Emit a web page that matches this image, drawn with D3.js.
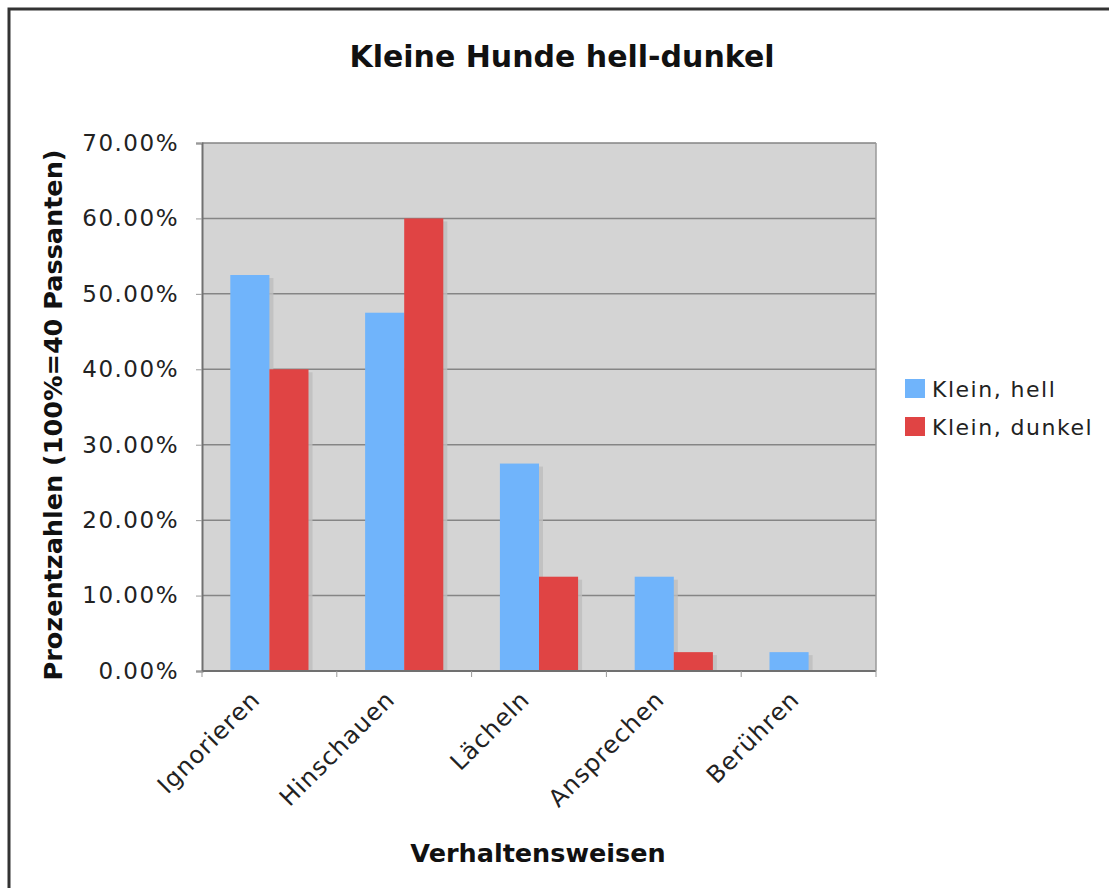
<!DOCTYPE html>
<html>
<head>
<meta charset="utf-8">
<script src="https://cdn.jsdelivr.net/npm/d3@7"></script>
<style>
  body { margin: 0; background: #fff; }
  svg { display: block; font-family: 'DejaVu Sans', Verdana, sans-serif; }
</style>
</head>
<body>
<svg id="chart" width="1109" height="888"></svg>
<script>
// data
const categories = ['Ignorieren', 'Hinschauen', 'Lächeln', 'Ansprechen', 'Berühren']
const seriesNames = ['Klein, hell', 'Klein, dunkel']
const hellValues = [0.525, 0.475, 0.275, 0.125, 0.025]
const dunkelValues = [0.40, 0.60, 0.125, 0.025, 0]
const yTicks = [0, 0.1, 0.2, 0.3, 0.4, 0.5, 0.6, 0.7]

const colors = ['#70b4fb', '#e04444']
const series = [hellValues, dunkelValues]

const margin = { left: 202, top: 143, right: 876, bottom: 671 }

const svg = d3.select('#chart')

// outer frame (cut off on right and bottom like the screenshot)
svg.append('rect')
  .attr('x', 9).attr('y', 9)
  .attr('width', 1130).attr('height', 900)
  .attr('fill', 'none')
  .attr('stroke', '#333')
  .attr('stroke-width', 3)

const x0 = d3.scaleBand()
  .domain(categories)
  .range([margin.left, margin.right])
  .paddingInner(0.42)
  .paddingOuter(0.21)

const x1 = d3.scaleBand()
  .domain(d3.range(series.length))
  .range([0, x0.bandwidth()])

const y = d3.scaleLinear()
  .domain([0, 0.7])
  .range([margin.bottom, margin.top])

// plot background
svg.append('rect')
  .attr('x', margin.left).attr('y', margin.top)
  .attr('width', margin.right - margin.left)
  .attr('height', margin.bottom - margin.top)
  .attr('fill', '#d4d4d4')

// grid lines
svg.append('g')
  .selectAll('line')
  .data(yTicks.slice(1))
  .enter()
  .append('line')
  .attr('x1', margin.left).attr('x2', margin.right)
  .attr('y1', (d) => y(d)).attr('y2', (d) => y(d))
  .attr('stroke', '#858585')
  .attr('stroke-width', 1.5)

// bars with a soft shadow
const groups = svg.append('g')
  .selectAll('g')
  .data(categories)
  .enter()
  .append('g')
  .attr('transform', (d) => `translate(${x0(d)},0)`)

series.forEach((vals, s) => {
  groups.append('rect')
    .attr('x', x1(s) + 4)
    .attr('y', (d, i) => y(vals[i]) + 3)
    .attr('width', x1.bandwidth())
    .attr('height', (d, i) => Math.max(0, margin.bottom - y(vals[i]) - 3))
    .attr('fill', '#bdbdbd')
    .attr('opacity', (d, i) => vals[i] > 0 ? 0.8 : 0)
})
series.forEach((vals, s) => {
  groups.append('rect')
    .attr('x', x1(s))
    .attr('y', (d, i) => y(vals[i]))
    .attr('width', x1.bandwidth())
    .attr('height', (d, i) => margin.bottom - y(vals[i]))
    .attr('fill', colors[s])
})

// y axis
const yAxis = d3.axisLeft(y)
  .tickValues(yTicks)
  .tickFormat((d) => (d * 100).toFixed(2) + '%')
  .tickSize(6)
  .tickPadding(17)
const yAxisGroup = svg.append('g')
  .attr('transform', `translate(${margin.left},0)`)
  .call(yAxis)
yAxisGroup.select('.domain').attr('stroke', '#707070').attr('stroke-width', 2)
yAxisGroup.selectAll('line').attr('stroke', '#999')
yAxisGroup.selectAll('text')
  .attr('font-size', '23px')
  .attr('letter-spacing', '1.5px')
  .attr('fill', '#222')
  .attr('font-family', "'DejaVu Sans', Verdana, sans-serif")

// x axis: ticks at category boundaries
const boundaries = categories.map((c) => x0(c) - x0.step() * x0.paddingInner() / 2)
boundaries.push(margin.right)
svg.append('line')
  .attr('x1', margin.left).attr('x2', margin.right)
  .attr('y1', margin.bottom).attr('y2', margin.bottom)
  .attr('stroke', '#707070').attr('stroke-width', 2)
svg.append('g')
  .selectAll('line')
  .data(boundaries)
  .enter()
  .append('line')
  .attr('x1', (d) => d).attr('x2', (d) => d)
  .attr('y1', margin.bottom).attr('y2', margin.bottom + 6)
  .attr('stroke', '#999')
svg.append('line')
  .attr('x1', margin.right).attr('x2', margin.right)
  .attr('y1', margin.top).attr('y2', margin.bottom)
  .attr('stroke', '#9a9a9a').attr('stroke-width', 1.5)

svg.append('g')
  .selectAll('text')
  .data(categories)
  .enter()
  .append('text')
  .attr('transform', (d) => `translate(${x0(d) + x0.bandwidth() / 2 - 8},${margin.bottom + 30}) rotate(-45)`)
  .attr('text-anchor', 'end')
  .attr('font-size', '24px')
  .attr('letter-spacing', '1px')
  .attr('fill', '#222')
  .text((d) => d)

// titles
svg.append('text')
  .attr('x', 562).attr('y', 67)
  .attr('text-anchor', 'middle')
  .attr('font-size', '30px')
  .attr('font-weight', 'bold')
  .attr('fill', '#111')
  .text('Kleine Hunde hell-dunkel')

svg.append('text')
  .attr('x', 538).attr('y', 862)
  .attr('text-anchor', 'middle')
  .attr('font-size', '25.5px')
  .attr('font-weight', 'bold')
  .attr('fill', '#111')
  .text('Verhaltensweisen')

svg.append('text')
  .attr('transform', 'translate(62,415) rotate(-90)')
  .attr('text-anchor', 'middle')
  .attr('font-size', '25.5px')
  .attr('font-weight', 'bold')
  .attr('fill', '#111')
  .text('Prozentzahlen (100%=40 Passanten)')

// legend
const legend = svg.append('g')
  .selectAll('g')
  .data(seriesNames)
  .enter()
  .append('g')
  .attr('transform', (d, i) => `translate(905,${379 + i * 38})`)
legend.append('rect')
  .attr('width', 20).attr('height', 19)
  .attr('fill', (d, i) => colors[i])
legend.append('text')
  .attr('x', 27).attr('y', 18)
  .attr('font-size', '22px')
  .attr('letter-spacing', '1.5px')
  .attr('fill', '#222')
  .text((d) => d)
</script>
</body>
</html>
